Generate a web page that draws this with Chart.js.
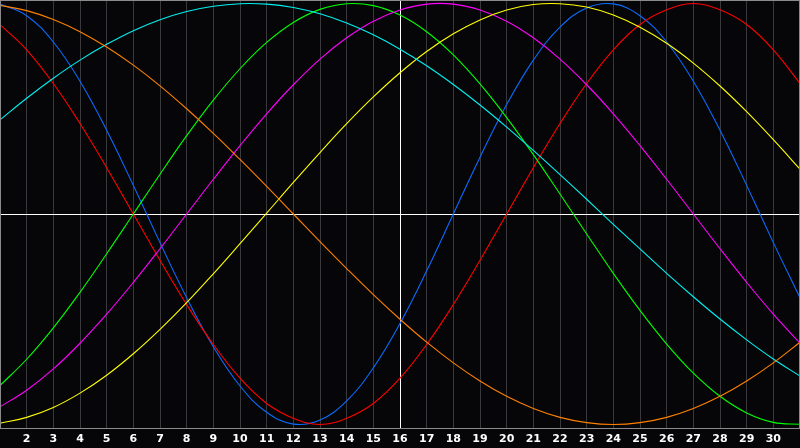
<!DOCTYPE html>
<html>
<head>
<meta charset="utf-8">
<script src="https://cdn.jsdelivr.net/npm/chart.js@4.4.1/dist/chart.umd.min.js"></script>
<style>
  html, body { margin: 0; padding: 0; background: #060608; }
  canvas { display: block; }
</style>
</head>
<body>
<canvas id="c" width="800" height="448"></canvas>
<script>
// Days along the x axis
const days = [1,2,3,4,5,6,7,8,9,10,11,12,13,14,15,16,17,18,19,20,21,22,23,24,25,26,27,28,29,30,31];
// Tick labels shown under the chart
const tickLabels = ['2','3','4','5','6','7','8','9','10','11','12','13','14','15','16','17','18','19','20','21','22','23','24','25','26','27','28','29','30'];
const todayDay = 16;

// Series values (one value per day)
const redVals = [0.90,0.78,0.62,0.43,0.22,0.00,-0.22,-0.43,-0.62,-0.78,-0.90,-0.97,-1.00,-0.97,-0.90,-0.78,-0.62,-0.43,-0.22,0.00,0.22,0.43,0.62,0.78,0.90,0.97,1.00,0.97,0.90,0.78,0.62];
const blueVals = [0.998,0.942,0.817,0.631,0.398,0.136,-0.136,-0.398,-0.631,-0.817,-0.942,-0.998,-0.979,-0.888,-0.731,-0.520,-0.270,0.000,0.270,0.520,0.731,0.888,0.979,0.998,0.942,0.817,0.631,0.398,0.136,-0.136,-0.398];
const greenVals = [-0.815,-0.690,-0.541,-0.372,-0.189,0.000,0.189,0.372,0.541,0.690,0.815,0.910,0.972,0.999,0.990,0.945,0.866,0.756,0.618,0.458,0.282,0.095,-0.095,-0.282,-0.458,-0.618,-0.756,-0.866,-0.945,-0.990,-0.999];
const magentaVals = [-0.916,-0.837,-0.736,-0.614,-0.476,-0.325,-0.165,0.000,0.165,0.325,0.476,0.614,0.736,0.837,0.916,0.969,0.997,0.997,0.969,0.916,0.837,0.736,0.614,0.476,0.325,0.165,0.000,-0.165,-0.325,-0.476,-0.614];
const cyanVals = [0.447,0.550,0.645,0.731,0.806,0.871,0.923,0.962,0.987,0.999,0.997,0.981,0.951,0.907,0.851,0.783,0.704,0.615,0.518,0.413,0.302,0.187,0.070,-0.049,-0.166,-0.282,-0.393,-0.499,-0.598,-0.689,-0.770];
const yellowVals = [-0.994,-0.966,-0.919,-0.851,-0.766,-0.664,-0.548,-0.421,-0.284,-0.141,0.004,0.150,0.292,0.429,0.556,0.671,0.772,0.856,0.922,0.969,0.995,0.999,0.983,0.945,0.887,0.811,0.717,0.608,0.486,0.353,0.213];
const orangeVals = [0.991,0.966,0.924,0.866,0.793,0.707,0.609,0.500,0.383,0.259,0.131,0.000,-0.131,-0.259,-0.383,-0.500,-0.609,-0.707,-0.793,-0.866,-0.924,-0.966,-0.991,-1.000,-0.991,-0.966,-0.924,-0.866,-0.793,-0.707,-0.609];

const seriesList = [
  { vals: orangeVals, color: '#ff8000' },
  { vals: cyanVals, color: '#00f0f0' },
  { vals: yellowVals, color: '#ffff00' },
  { vals: magentaVals, color: '#ff00ff' },
  { vals: greenVals, color: '#00ff00' },
  { vals: redVals, color: '#ff0000' },
  { vals: blueVals, color: '#0a6cff' }
];

const datasets = seriesList.map(s => ({
  data: days.map((d, i) => ({ x: d, y: s.vals[i] })),
  borderColor: s.color,
  borderWidth: 1.1,
  pointRadius: 0,
  tension: 0.4,
  fill: false
}));

const framePlugin = {
  id: 'frame',
  beforeDraw(chart) {
    const ctx = chart.ctx;
    ctx.save();
    ctx.fillStyle = '#060608';
    ctx.fillRect(0, 0, chart.width, chart.height);
    ctx.restore();
  },
  afterDraw(chart) {
    const ctx = chart.ctx;
    const a = chart.chartArea;
    ctx.save();
    ctx.strokeStyle = '#8a8a8a';
    ctx.lineWidth = 1;
    ctx.strokeRect(Math.round(a.left) + 0.5, Math.round(a.top) + 0.5,
                   Math.round(a.right - a.left) - 1, Math.round(a.bottom - a.top));
    ctx.restore();
  }
};

new Chart(document.getElementById('c'), {
  type: 'line',
  data: { datasets },
  plugins: [framePlugin],
  options: {
    responsive: false,
    animation: false,
    devicePixelRatio: 1,
    layout: { padding: 0, autoPadding: false },
    plugins: { legend: { display: false }, tooltip: { enabled: false } },
    scales: {
      x: {
        type: 'linear',
        min: 1,
        max: 31,
        afterFit: s => { s.height = 20; s.paddingLeft = 0; s.paddingRight = 0; },
        border: { display: true, color: '#8a8a8a' },
        grid: {
          drawTicks: false,
          color: c => {
            const v = c.tick && c.tick.value;
            if (v === todayDay) return '#ffffff';
            if (v === 1 || v === 31) return 'rgba(0,0,0,0)';
            return '#38383d';
          }
        },
        ticks: {
          stepSize: 1,
          autoSkip: false,
          maxRotation: 0,
          padding: 5,
          color: '#ffffff',
          font: { family: 'DejaVu Sans', size: 11, weight: 'bold' },
          callback: v => (v >= 2 && v <= 30) ? tickLabels[v - 2] : ''
        }
      },
      y: {
        type: 'linear',
        min: -1.0166,
        max: 1.0166,
        afterFit: s => { s.width = 0; s.paddingTop = 0; s.paddingBottom = 0; },
        afterBuildTicks: s => { s.ticks = [{ value: 0 }]; },
        border: { display: false },
        grid: { drawTicks: false, color: '#ffffff' },
        ticks: { display: false }
      }
    }
  }
});
</script>
</body>
</html>
